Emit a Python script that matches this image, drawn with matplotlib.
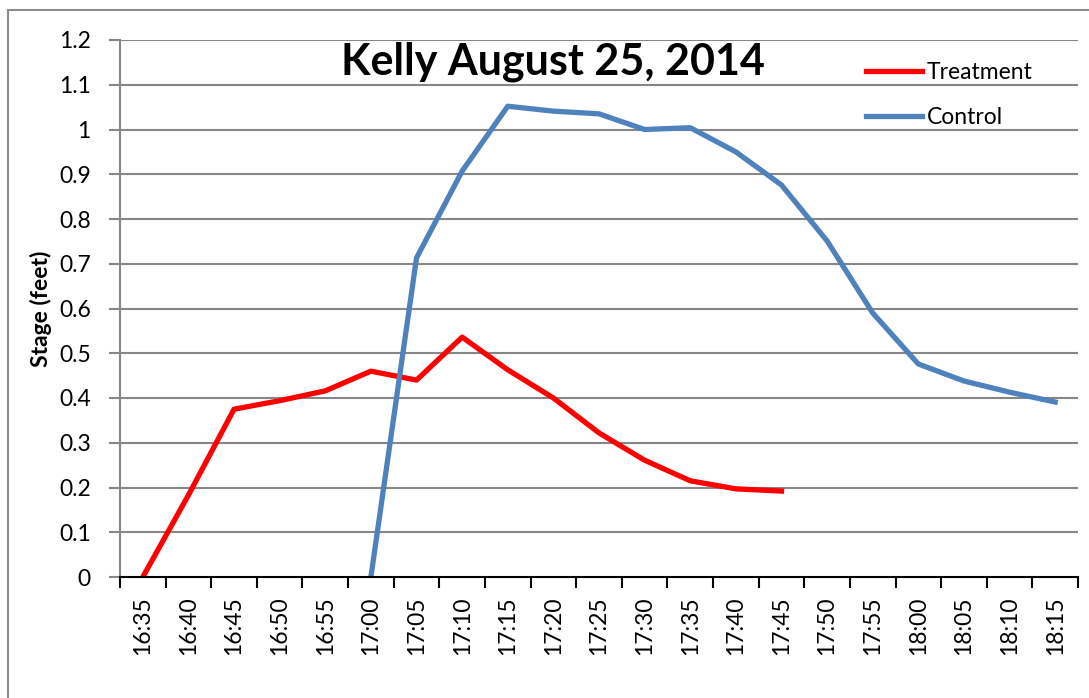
import numpy as np
import matplotlib
matplotlib.use("Agg")
import matplotlib.pyplot as plt
from matplotlib.patches import Rectangle

times = ["16:35", "16:40", "16:45", "16:50", "16:55", "17:00", "17:05", "17:10",
         "17:15", "17:20", "17:25", "17:30", "17:35", "17:40", "17:45", "17:50",
         "17:55", "18:00", "18:05", "18:10", "18:15"]
treatment = [0.0, 0.183, 0.375, 0.394, 0.416, 0.460, 0.440, 0.536, 0.463, 0.400,
             0.322, 0.261, 0.215, 0.197, 0.192,
             None, None, None, None, None, None]
control = [None, None, None, None, None, 0.0, 0.713, 0.907, 1.052, 1.041, 1.035,
           1.000, 1.004, 0.950, 0.876, 0.751, 0.590, 0.476, 0.438, 0.413, 0.391]
yticks = [0, 0.1, 0.2, 0.3, 0.4, 0.5, 0.6, 0.7, 0.8, 0.9, 1.0, 1.1, 1.2]
ytick_labels = ["0", "0.1", "0.2", "0.3", "0.4", "0.5", "0.6", "0.7", "0.8", "0.9", "1", "1.1", "1.2"]

plt.rcParams['font.family'] = ['Lato', 'DejaVu Sans']

W, H = 1089, 698
fig = plt.figure(figsize=(W / 100, H / 100), dpi=100)
fig.patch.set_facecolor('white')

# outer chart border
fig.add_artist(Rectangle((8 / W, -0.05), 1.2, 1 - 10 / H + 0.05, transform=fig.transFigure,
                         fill=False, edgecolor='#8c8c8c', linewidth=1.5))

ax = fig.add_axes([120 / W, 1 - 577 / H, (1078 - 120) / W, (577 - 40) / H])
x = np.arange(len(times))
t = np.array([np.nan if v is None else v for v in treatment], dtype=float)
c = np.array([np.nan if v is None else v for v in control], dtype=float)

grid_c = '#868686'
for yv in yticks[1:]:
    ax.axhline(yv, color=grid_c, linewidth=1.5, zorder=1)

ax.plot(x, t, color='#FF0000', linewidth=3.8, label='Treatment', zorder=3)
ax.plot(x, c, color='#4F81BD', linewidth=3.8, label='Control', zorder=3)

ax.set_xlim(-0.5, len(times) - 0.5)
ax.set_ylim(0, 1.2)

ax.set_yticks(yticks)
ax.set_yticklabels(ytick_labels)
ax.tick_params(axis='y', direction='out', length=8, width=1.5, color=grid_c,
               pad=13, labelsize=16.5)

ax.set_xticks(np.arange(-0.5, len(times), 1.0))
ax.set_xticklabels([])
ax.set_xticks(x, minor=True)
ax.set_xticklabels(times, minor=True, rotation=90)
ax.tick_params(axis='x', which='major', direction='out', length=8, width=1.5, color='black')
ax.tick_params(axis='x', which='minor', length=0, pad=14, labelsize=16.5)

for s in ['top', 'right']:
    ax.spines[s].set_visible(False)
ax.spines['left'].set_color(grid_c)
ax.spines['left'].set_linewidth(1.5)
ax.spines['bottom'].set_color('black')
ax.spines['bottom'].set_linewidth(1.5)
ax.spines['bottom'].set_zorder(4)

ax.set_ylabel('Stage (feet)', fontsize=16.5, fontweight='bold')
ax.yaxis.set_label_coords(-(120 - 52) / (1078 - 120), 0.5)

fig.text(553 / W, 1 - 62 / H, 'Kelly August 25, 2014', fontsize=31, fontweight='bold',
         ha='center', va='center')

leg = ax.legend(loc='upper left', bbox_to_anchor=(866 / W, 1 - 62 / H),
                bbox_transform=fig.transFigure, frameon=False, fontsize=16.5,
                handlelength=2.45, handletextpad=0.2, labelspacing=1.05,
                borderaxespad=0, borderpad=0)
for line in leg.get_lines():
    line.set_linewidth(3.8)

fig.savefig('out.png', dpi=100)
